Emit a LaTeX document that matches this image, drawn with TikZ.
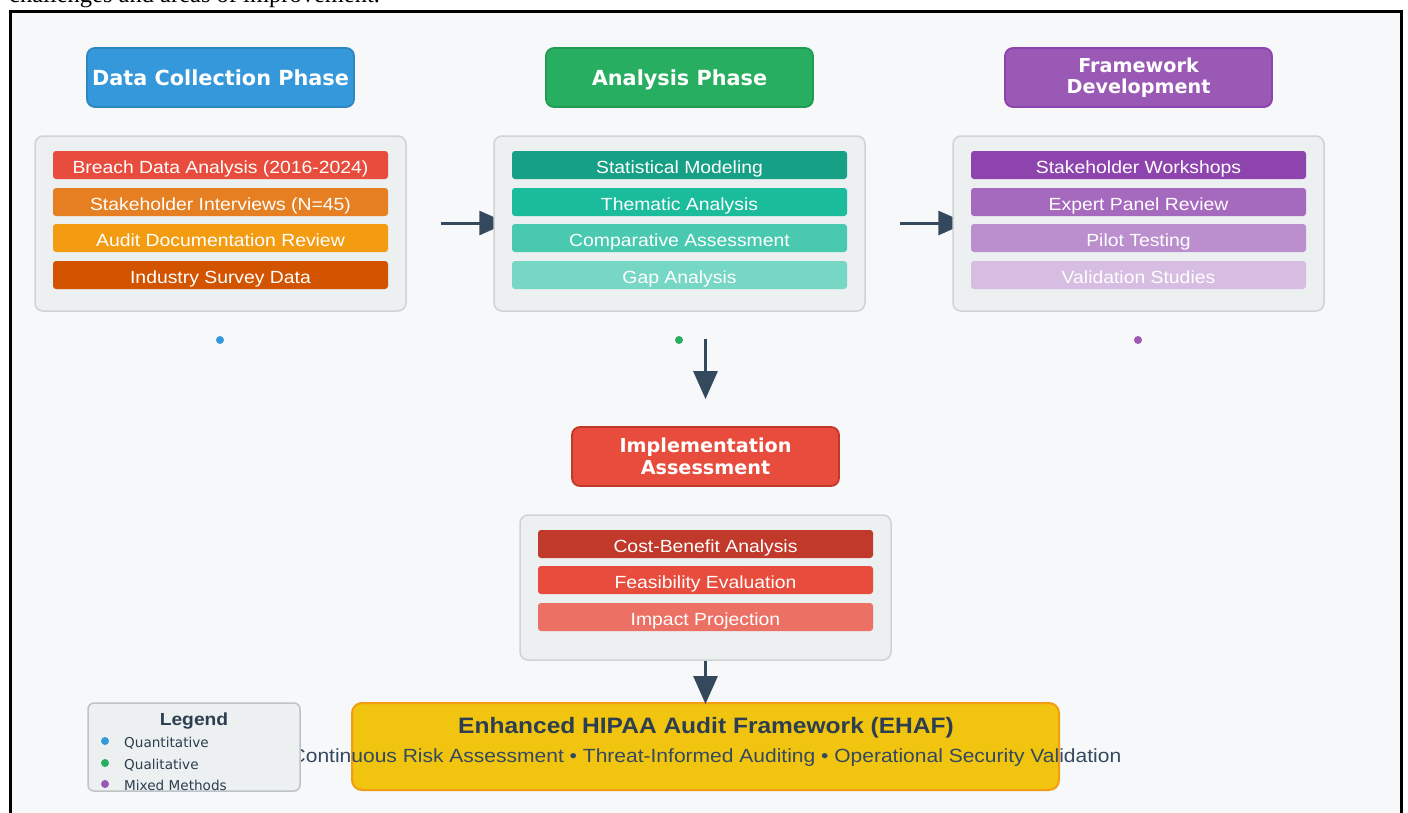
\documentclass[tikz,border=0pt]{standalone}
\usepackage{fontspec}
\setmainfont{Liberation Sans}
\newfontfamily\capserif{Liberation Serif}
\newfontfamily\widesans[FakeStretch=1.1]{Liberation Sans}
\newfontfamily\headfont{DejaVu Sans}
\usetikzlibrary{arrows.meta,calc}
\definecolor{bgc}{HTML}{F7F8FA}
\definecolor{contfill}{HTML}{ECF0F1}
\definecolor{contdraw}{HTML}{D0D3D4}
\definecolor{arrc}{HTML}{34495E}
\definecolor{dark}{HTML}{2C3E50}
\definecolor{blueh}{HTML}{3498DB}\definecolor{blueb}{HTML}{2E86C1}
\definecolor{greenh}{HTML}{27AE60}\definecolor{greenb}{HTML}{229954}
\definecolor{purph}{HTML}{9B59B6}\definecolor{purpb}{HTML}{8E44AD}
\definecolor{redh}{HTML}{E74C3C}\definecolor{redb}{HTML}{C0392B}
\definecolor{lA}{HTML}{E74C3C}\definecolor{lB}{HTML}{E67E22}\definecolor{lC}{HTML}{F39C12}\definecolor{lD}{HTML}{D35400}
\definecolor{mA}{HTML}{16A085}\definecolor{mB}{HTML}{1ABC9C}\definecolor{mC}{HTML}{48C9B0}\definecolor{mD}{HTML}{76D7C4}
\definecolor{rA}{HTML}{8E44AD}\definecolor{rB}{HTML}{A569BD}\definecolor{rC}{HTML}{BB8FCE}\definecolor{rD}{HTML}{D7BDE2}
\definecolor{bA}{HTML}{C0392B}\definecolor{bB}{HTML}{E74C3C}\definecolor{bC}{HTML}{EC7063}
\definecolor{gold}{HTML}{F1C40F}\definecolor{goldb}{HTML}{F39C12}
\definecolor{legb}{HTML}{BDC3C7}
\pgfdeclarelayer{bg}\pgfdeclarelayer{arrl}
\pgfsetlayers{bg,arrl,main}
\tikzset{
  header/.style={rounded corners=8pt, line width=1.8pt, minimum width=267pt, minimum height=59pt,
    text=white, align=center, font=\headfont\bfseries\fontsize{20.8}{23}\selectfont, inner sep=0pt},
  header2/.style={header, font=\headfont\bfseries\fontsize{19.2}{21.5}\selectfont},
  container/.style={rounded corners=8pt, fill=contfill, draw=contdraw, line width=1.5pt,
    minimum width=371pt, inner sep=0pt},
  item/.style={rounded corners=3pt, minimum width=335pt, minimum height=28pt, inner sep=0pt,
    text=white, font=\widesans\fontsize{17.6}{20}\selectfont, text height=16pt, text depth=0pt},
  arr/.style={draw=arrc, line width=3pt, -{Triangle[length=28pt,width=24pt]}},
  dotc/.style={circle, inner sep=0pt, minimum size=8pt},
  legitem/.style={anchor=west, font=\headfont\fontsize{13.6}{15}\selectfont, text=dark, inner sep=0pt,
    text height=9.9pt, text depth=0pt},
}
\begin{document}
\begin{tikzpicture}[x=1pt,y=-1pt]
\useasboundingbox (0,0) rectangle (1408,812);
\begin{pgfonlayer}{bg}
\fill[white] (0,0) rectangle (1408,812);
\node[anchor=base west, inner sep=0pt, font=\capserif\fontsize{24.5}{26}\selectfont] (cap) at (9,2) {challenges and areas of improvement.};
\draw[line width=3pt, fill=bgc] (10.5,11.5) rectangle (1401.5,830);
\end{pgfonlayer}

% headers
\node[header, fill=blueh, draw=blueb, text height=15pt, text depth=0pt] (h1) at (220.5,77.5) {Data Collection Phase};
\node[header, fill=greenh, draw=greenb, text height=15pt, text depth=0pt] (h2) at (679.5,77.5) {Analysis Phase};
\node[header2, fill=purph, draw=purpb] (h3) at (1138.5,77.5) {Framework\\Development};
\node[header2, fill=redh, draw=redb] (h4) at (705.5,456.5) {Implementation\\Assessment};

% containers
\node[container, minimum height=175pt] (c1) at (220.5,223.5) {};
\node[container, minimum height=175pt] (c2) at (679.5,223.5) {};
\node[container, minimum height=175pt] (c3) at (1138.5,223.5) {};
\node[container, minimum height=145pt] (c4) at (705.5,587.5) {};

% items
\node[item, fill=lA] (l1) at (220.5,165) {Breach Data Analysis (2016-2024)};
\node[item, fill=lB] (l2) at (220.5,202) {Stakeholder Interviews (N=45)};
\node[item, fill=lC] (l3) at (220.5,238) {Audit Documentation Review};
\node[item, fill=lD] (l4) at (220.5,275) {Industry Survey Data};

\node[item, fill=mA] (m1) at (679.5,165) {Statistical Modeling};
\node[item, fill=mB] (m2) at (679.5,202) {Thematic Analysis};
\node[item, fill=mC] (m3) at (679.5,238) {Comparative Assessment};
\node[item, fill=mD] (m4) at (679.5,275) {Gap Analysis};

\node[item, fill=rA] (r1) at (1138.5,165) {Stakeholder Workshops};
\node[item, fill=rB] (r2) at (1138.5,202) {Expert Panel Review};
\node[item, fill=rC] (r3) at (1138.5,238) {Pilot Testing};
\node[item, fill=rD] (r4) at (1138.5,275) {Validation Studies};

\node[item, fill=bA] (b1) at (705.5,544) {Cost-Benefit Analysis};
\node[item, fill=bB] (b2) at (705.5,580) {Feasibility Evaluation};
\node[item, fill=bC] (b3) at (705.5,617) {Impact Projection};

% dots
\node[dotc, fill=blueh] (d1) at (220,340) {};
\node[dotc, fill=greenh] (d2) at (679,340) {};
\node[dotc, fill=purph] (d3) at (1138,340) {};

% arrows (heads of the side arrows go under the containers)
\coordinate (a1s) at (441,223);
\coordinate (a2s) at (900,223);
\begin{pgfonlayer}{arrl}
\draw[arr] (a1s) -- ($(c2.west)+(14,-0.5)$);
\draw[arr] (a2s) -- ($(c3.west)+(14,-0.5)$);
\end{pgfonlayer}
\coordinate (v1s) at ($(h4.north)+(0,-87)$);
\coordinate (v1e) at ($(h4.north)+(0,-27)$);
\draw[arr] (v1s) -- (v1e);

% final box
\node[rounded corners=10pt, fill=gold, draw=goldb, line width=2pt, minimum width=707pt, minimum height=87pt, inner sep=0pt] (fin) at (705.5,746.5) {};
\node[font=\widesans\bfseries\fontsize{22.3}{24}\selectfont, text=dark, inner sep=0pt, text height=16pt, text depth=0pt] (fint) at (706,725) {Enhanced HIPAA Audit Framework (EHAF)};
\node[font=\widesans\fontsize{19.1}{21}\selectfont, text=arrc, inner sep=0pt, text height=13.7pt, text depth=0pt] (fins) at (706,756) {Continuous Risk Assessment • Threat-Informed Auditing • Operational Security Validation};
\draw[arr] (c4.south) -- ($(fin.north)+(0,2)$);

% legend
\node[rounded corners=6pt, fill=contfill, draw=legb, line width=1.5pt, minimum width=212pt, minimum height=88pt, inner sep=0pt] (leg) at (194,747) {};
\node[font=\widesans\bfseries\fontsize{17.5}{19}\selectfont, text=dark, inner sep=0pt, text height=12.6pt, text depth=0pt] (legt) at (194,719) {Legend};
\node[dotc, fill=blueh] (ld1) at (105,741) {};
\node[dotc, fill=greenh] (ld2) at (105,763) {};
\node[dotc, fill=purph] (ld3) at (105,784) {};
\node[legitem] (lt1) at (124,743) {Quantitative};
\node[legitem] (lt2) at (124,765) {Qualitative};
\node[legitem] (lt3) at (124,786) {Mixed Methods};
\end{tikzpicture}
\end{document}
